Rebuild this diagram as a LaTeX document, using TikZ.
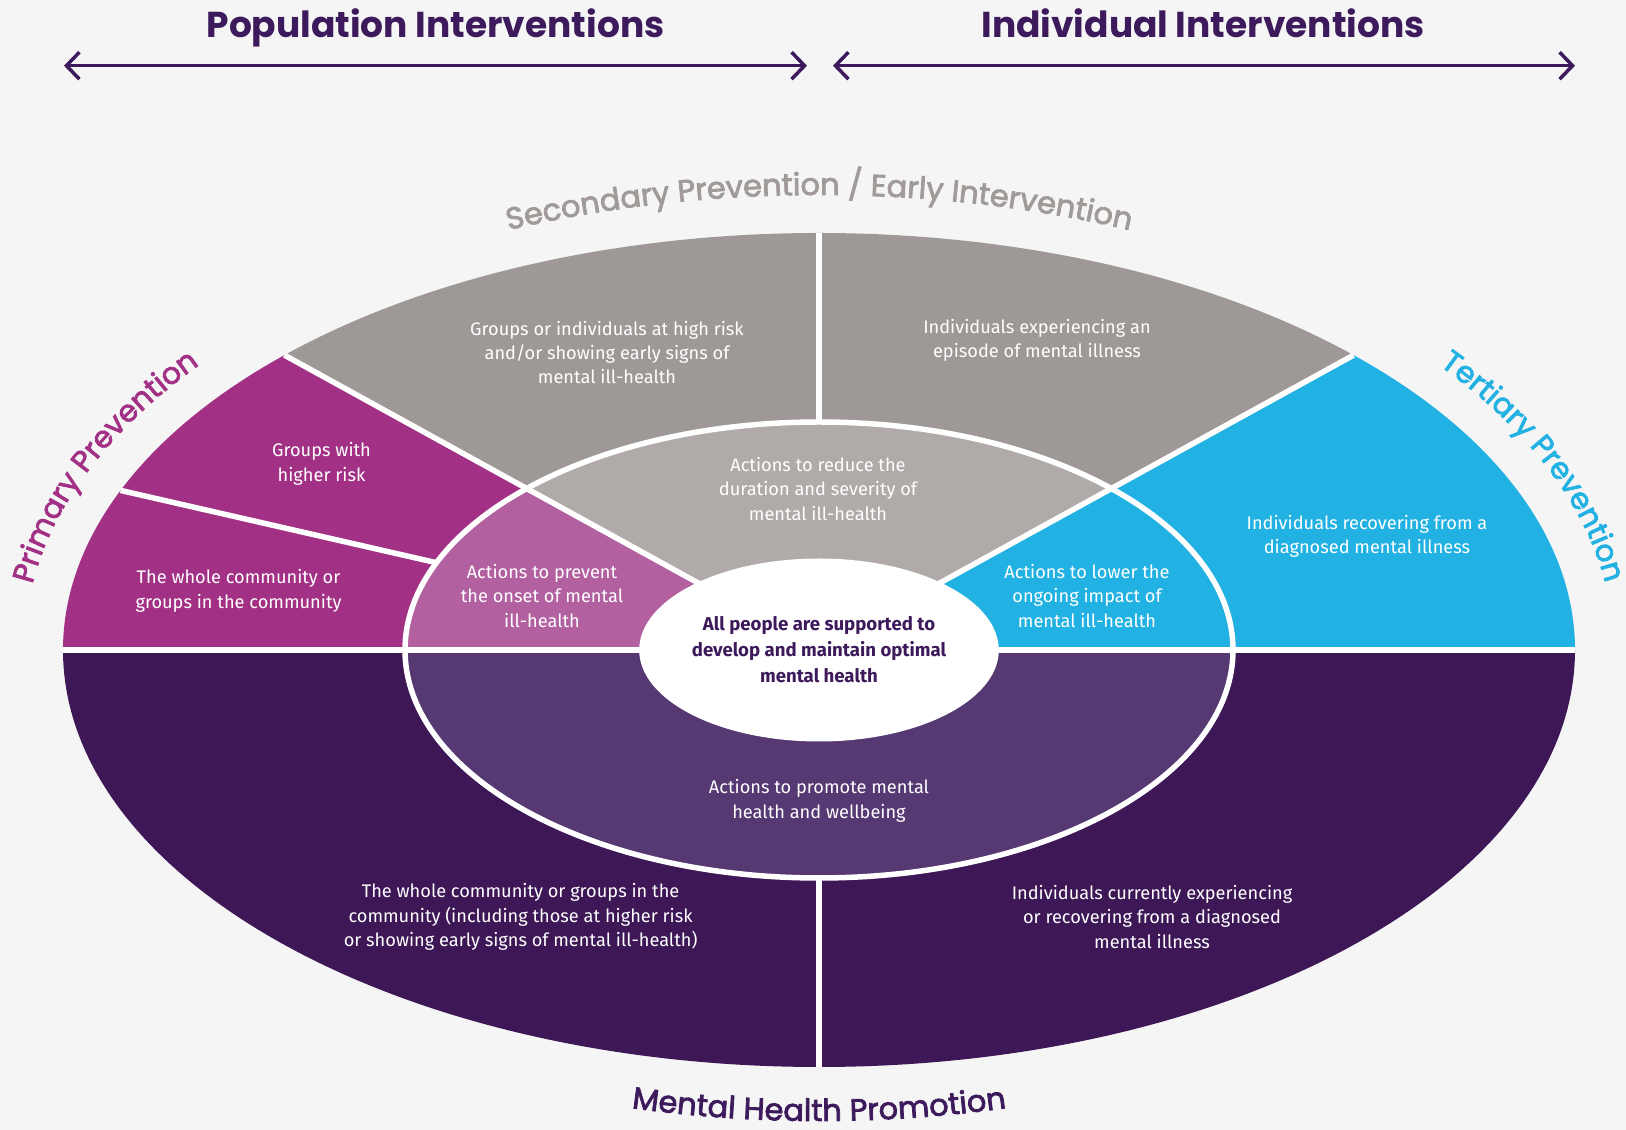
\documentclass[tikz,border=0pt]{standalone}
\usepackage{fontspec}
\setmainfont{Fira Sans}
\newfontfamily\headfont{Poppins}
\newfontfamily\curvefont{Poppins}[FakeBold=2.5]
\usetikzlibrary{calc,arrows.meta,decorations.text,shapes.geometric}
\definecolor{bg}{HTML}{F5F5F5}
\definecolor{grayo}{HTML}{9E9897}
\definecolor{graym}{HTML}{B0AAA9}
\definecolor{mago}{HTML}{A23186}
\definecolor{magm}{HTML}{B2609F}
\definecolor{cyano}{HTML}{22B1E3}
\definecolor{purpo}{HTML}{3D1756}
\definecolor{purpm}{HTML}{563872}
\definecolor{headc}{HTML}{3D1A5B}
\definecolor{secc}{HTML}{A09A98}
\begin{document}
\begin{tikzpicture}[x=1pt,y=1pt,
  sep/.style={draw=white,line width=5.5pt},
  body/.style={align=center,text=white,inner sep=0pt,font=\fontsize{18.2}{24.4}\selectfont},
  arrowline/.style={draw=headc,line width=3.5pt,
    {Straight Barb[length=13pt,width=27pt]}-{Straight Barb[length=13pt,width=27pt]}},
  heading/.style={text=headc,inner sep=0pt,anchor=base,font=\headfont\bfseries\fontsize{36}{40}\selectfont},
  curvelbl/.style={decorate,decoration={text along path,text align=center,text={#1}}}]
\fill[bg] (0,0) rectangle (1626,1130);
\useasboundingbox (0,0) rectangle (1626,1130);
\coordinate (c) at (819,480);

% headings and arrows
\node[heading] (pop) at (435.5,1092) {Population Interventions};
\node[heading] (ind) at (1203,1092) {Individual Interventions};
\coordinate (a1) at (64,1064.3);
\coordinate (a2) at (807,1064.3);
\coordinate (b1) at (833,1064.3);
\coordinate (b2) at (1575,1064.3);
\draw[arrowline] (a1) -- (a2);
\draw[arrowline] (b1) -- (b2);

% outer ring sectors
\fill[purpo] ($(c)+(180:756 and 417)$) arc[start angle=180,end angle=360,x radius=756,y radius=417] -- cycle;
\fill[cyano] (c) -- ($(c)+(0:756 and 417)$) arc[start angle=0,end angle=45,x radius=756,y radius=417] -- cycle;
\fill[grayo] (c) -- ($(c)+(45:756 and 417)$) arc[start angle=45,end angle=135,x radius=756,y radius=417] -- cycle;
\fill[mago] (c) -- ($(c)+(135:756 and 417)$) arc[start angle=135,end angle=180,x radius=756,y radius=417] -- cycle;

% middle ring sectors
\fill[purpm] ($(c)+(180:414 and 228)$) arc[start angle=180,end angle=360,x radius=414,y radius=228] -- cycle;
\fill[cyano] (c) -- ($(c)+(0:414 and 228)$) arc[start angle=0,end angle=45,x radius=414,y radius=228] -- cycle;
\fill[graym] (c) -- ($(c)+(45:414 and 228)$) arc[start angle=45,end angle=135,x radius=414,y radius=228] -- cycle;
\fill[magm] (c) -- ($(c)+(135:414 and 228)$) arc[start angle=135,end angle=180,x radius=414,y radius=228] -- cycle;

% white separators
\draw[sep] ($(c)+(180:756 and 417)$) -- ($(c)+(0:756 and 417)$);
\draw[sep] ($(c)+(90:414 and 228)$) -- ($(c)+(90:756 and 417)$);
\draw[sep] ($(c)+(270:414 and 228)$) -- ($(c)+(270:756 and 417)$);
\draw[sep] ($(c)+(45:165 and 91.5)$) -- ($(c)+(45:756 and 417)$);
\draw[sep] ($(c)+(135:165 and 91.5)$) -- ($(c)+(135:756 and 417)$);
\draw[sep] ($(c)+(157.5:414 and 228)$) -- ($(c)+(157.5:756 and 417)$);
\draw[sep] (c) ellipse[x radius=414,y radius=228];

% core
\node[ellipse,fill=white,minimum width=330pt,minimum height=183pt,inner sep=0pt,align=center,
  text=headc,font=\bfseries\fontsize{18.6}{25.9}\selectfont] (core) at (c)
  {All people are supported to\\develop and maintain optimal\\mental health};

% body texts
\node[body] (t1) at (607,777.4) {Groups or individuals at high risk\\and/or showing early signs of\\mental ill-health};
\node[body] (t2) at (1037,789.4) {Individuals experiencing an\\episode of mental illness};
\node[body] (t3) at (321.5,666) {Groups with\\higher risk};
\node[body] (t4) at (238.5,539) {The whole community or\\groups in the community};
\node[body] (t5) at (542,534) {Actions to prevent\\the onset of mental\\ill-health};
\node[body] (t6) at (818,641) {Actions to reduce the\\duration and severity of\\mental ill-health};
\node[body] (t7) at (1087,534) {Actions to lower the\\ongoing impact of\\mental ill-health};
\node[body] (t8) at (1367,593.4) {Individuals recovering from a\\diagnosed mental illness};
\node[body] (t10) at (819,329) {Actions to promote mental\\health and wellbeing};
\node[body] (t11) at (520.6,213) {The whole community or groups in the\\community (including those at higher risk\\or showing early signs of mental ill-health)};
\node[body] (t12) at (1152,213) {Individuals currently experiencing\\or recovering from a diagnosed\\mental illness};

% curved labels
\path[curvelbl={|\curvefont\fontsize{30.5}{30.5}\selectfont\color{secc}|Secondary Prevention / Early Intervention}]
  ($(c)+(127:805 and 455)$) arc[start angle=127,end angle=53,x radius=805,y radius=455];
\path[curvelbl={|\curvefont\fontsize{30}{30}\selectfont\color{mago}|Primary Prevention}]
  ($(c)+(179.5:795 and 455)$) arc[start angle=179.5,end angle=135.5,x radius=795,y radius=455];
\path[curvelbl={|\curvefont\fontsize{30}{30}\selectfont\color{cyano}|Tertiary Prevention}]
  ($(c)+(44.5:795 and 455)$) arc[start angle=44.5,end angle=0.5,x radius=795,y radius=455];
\path[curvelbl={|\curvefont\fontsize{30.5}{30.5}\selectfont\color{headc}|Mental Health Promotion}]
  ($(c)+(245:805 and 471)$) arc[start angle=245,end angle=295,x radius=805,y radius=471];
\end{tikzpicture}
\end{document}
